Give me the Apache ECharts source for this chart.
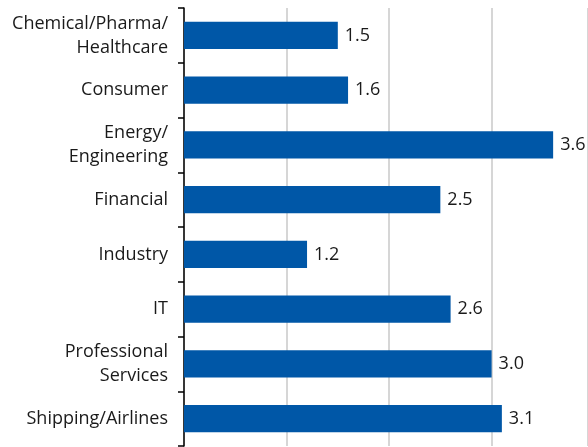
<!DOCTYPE html>
<html>
<head>
<meta charset="utf-8">
<script src="https://cdn.jsdelivr.net/npm/echarts@6/dist/echarts.min.js"></script>
<style>
  html, body { margin: 0; padding: 0; background: #fff; }
  #chart { width: 588px; height: 447px; }
</style>
</head>
<body>
<div id="chart"></div>
<script>
// sectors, top to bottom
const sectors = [
  "Chemical/Pharma/\nHealthcare",
  "Consumer",
  "Energy/\nEngineering",
  "Financial",
  "Industry",
  "IT",
  "Professional\nServices",
  "Shipping/Airlines"
];
const values = [1.5, 1.6, 3.6, 2.5, 1.2, 2.6, 3.0, 3.1];

const fontFamily = "'Open Sans', sans-serif";
const chart = echarts.init(document.getElementById("chart"));

chart.setOption({
  animation: false,
  grid: { left: 184, right: 0, top: 8, bottom: 1 },
  xAxis: {
    type: "value",
    min: 0,
    max: 3.94,
    interval: 1,
    axisLabel: { show: false },
    axisLine: { show: false },
    axisTick: { show: false },
    splitLine: { lineStyle: { color: "#c8c8c8", width: 1.5 } }
  },
  yAxis: {
    type: "category",
    data: sectors,
    inverse: true,
    axisLine: { lineStyle: { color: "#000", width: 1.5 } },
    axisTick: { show: true, inside: false, length: 6, lineStyle: { color: "#000", width: 1.5 } },
    axisLabel: {
      margin: 16,
      color: "#1a1a1a",
      fontSize: 18,
      lineHeight: 24,
      fontFamily: fontFamily,
      align: "right"
    }
  },
  series: [{
    type: "bar",
    data: values,
    barWidth: "50%",
    itemStyle: { color: "#0057a7" },
    label: {
      show: true,
      position: "right",
      distance: 7,
      color: "#1a1a1a",
      fontSize: 18,
      fontFamily: fontFamily,
      formatter: p => p.value.toFixed(1)
    }
  }]
});
</script>
</body>
</html>
